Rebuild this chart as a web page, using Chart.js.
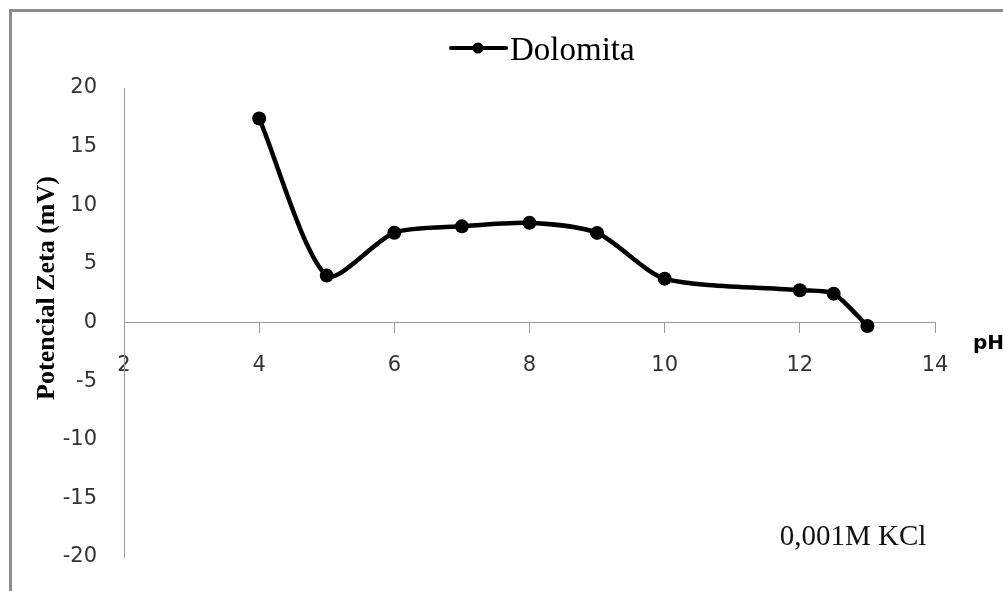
<!DOCTYPE html>
<html>
<head>
<meta charset="utf-8">
<style>
  html, body { margin: 0; padding: 0; background: #fff; }
  #wrap { width: 1003px; height: 591px; }
</style>
<script src="https://cdn.jsdelivr.net/npm/chart.js@4/dist/chart.umd.min.js"></script>
</head>
<body>
<div id="wrap"><canvas id="zeta" width="1003" height="591"></canvas></div>
<script>
  // values
  const phValues = [4, 5, 6, 7, 8, 9, 10, 12, 12.5, 13];
  const zetaValues = [17.4, 4.0, 7.66, 8.2, 8.5, 7.64, 3.74, 2.75, 2.46, -0.3];
  const xTicks = [2, 4, 6, 8, 10, 12, 14];
  const yTicks = [-20, -15, -10, -5, 0, 5, 10, 15, 20];

  const seriesName = "Dolomita";
  const yTitle = "Potencial Zeta (mV)";
  const xTitle = "pH";
  const note = "0,001M KCl";

  // frame, legend and free texts (Excel-style decorations)
  const decor = {
    id: "decor",
    beforeDraw(chart) {
      const c = chart.ctx;
      c.save();
      c.fillStyle = "#fff";
      c.fillRect(0, 0, chart.width, chart.height);
      c.restore();
    },
    afterDraw(chart) {
      const c = chart.ctx;
      c.save();
      // outer frame (only top and left visible)
      c.strokeStyle = "#8c8c8c";
      c.lineWidth = 3;
      c.beginPath();
      c.moveTo(10.5, chart.height);
      c.lineTo(10.5, 10.5);
      c.lineTo(chart.width, 10.5);
      c.stroke();

      // legend
      c.strokeStyle = "#000";
      c.lineWidth = 4;
      c.lineCap = "round";
      c.beginPath();
      c.moveTo(451, 48);
      c.lineTo(506, 48);
      c.stroke();
      c.fillStyle = "#000";
      c.beginPath();
      c.arc(478, 48, 5.5, 0, Math.PI * 2);
      c.fill();
      c.font = "33px 'Liberation Serif'";
      c.textBaseline = "alphabetic";
      c.textAlign = "left";
      c.fillText(seriesName, 510, 60);

      // y title
      c.save();
      c.translate(47, 288);
      c.rotate(-Math.PI / 2);
      c.font = "bold 26px 'Liberation Serif'";
      c.textAlign = "center";
      c.textBaseline = "middle";
      c.fillText(yTitle, 0, 0);
      c.restore();

      // x title
      c.font = "bold 20px 'DejaVu Sans'";
      c.textAlign = "left";
      c.fillStyle = "#000";
      c.fillText(xTitle, 973, 349);

      // note
      c.font = "29px 'Liberation Serif'";
      c.textAlign = "center";
      c.fillStyle = "#111";
      c.fillText(note, 853, 545);
      c.restore();
    }
  };

  new Chart(document.getElementById("zeta"), {
    type: "line",
    data: {
      datasets: [{
        label: seriesName,
        data: phValues.map((x, i) => ({ x, y: zetaValues[i] })),
        borderColor: "#000",
        backgroundColor: "#000",
        borderWidth: 4.5,
        pointRadius: 7,
        pointBackgroundColor: "#000",
        pointBorderWidth: 0,
        tension: 0.25,
        clip: false,
      }],
    },
    options: {
      responsive: false,
      animation: false,
      events: [],
      layout: { autoPadding: false, padding: { top: 88, right: 68, bottom: 34, left: 0 } },
      plugins: { legend: { display: false }, tooltip: { enabled: false } },
      scales: {
        x: {
          type: "linear",
          position: { y: 0 },
          min: 2,
          max: 14,
          afterFit: (s) => { s.height = 0; },
          afterBuildTicks: (s) => { s.ticks = xTicks.map((v) => ({ value: v })); },
          border: { color: "#9a9a9a", width: 1 },
          grid: { drawOnChartArea: false, drawTicks: true, tickLength: 10, color: "#9a9a9a" },
          ticks: { color: "#333", padding: 20, font: { family: "'DejaVu Sans'", size: 21 }, maxRotation: 0 },
        },
        y: {
          type: "linear",
          position: "left",
          min: -20,
          max: 20,
          afterFit: (s) => { s.width = 124; },
          afterBuildTicks: (s) => { s.ticks = yTicks.map((v) => ({ value: v })); },
          border: { color: "#9a9a9a", width: 1 },
          // invisible tick marks give the label gap without padding the chart area
          grid: { drawOnChartArea: false, drawTicks: true, tickLength: 27, tickColor: "rgba(0,0,0,0)" },
          ticks: { color: "#333", padding: 0, font: { family: "'DejaVu Sans'", size: 21 } },
        },
      },
    },
    plugins: [decor],
  });
</script>
</body>
</html>
